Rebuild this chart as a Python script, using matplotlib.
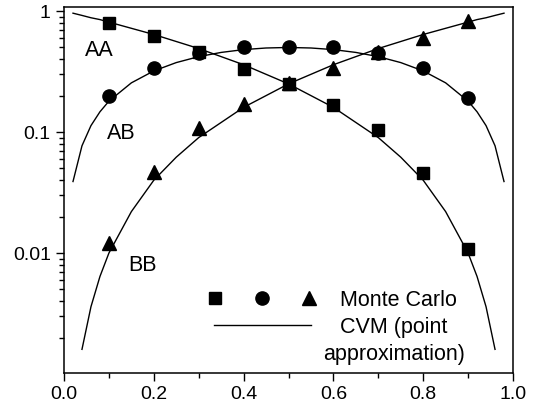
import matplotlib
matplotlib.use("Agg")
import matplotlib.pyplot as plt
from matplotlib.ticker import LogLocator, NullFormatter, MultipleLocator
from matplotlib.lines import Line2D
from matplotlib.legend_handler import HandlerTuple

plt.rcParams["font.family"] = ["Liberation Sans", "DejaVu Sans"]

# Monte Carlo points
mc_x = [0.1, 0.2, 0.3, 0.4, 0.5, 0.6, 0.7, 0.8, 0.9]
mc_aa = [0.80, 0.62, 0.46, 0.335, 0.25, 0.167, 0.104, 0.046, 0.0109]
mc_ab = [0.199, 0.34, 0.45, 0.50, 0.507, 0.50, 0.45, 0.34, 0.19]
mc_bb = [0.012, 0.047, 0.107, 0.17, 0.256, 0.34, 0.455, 0.594, 0.83]

# CVM (point approximation) curves
cvm_x = [0.02, 0.04, 0.06, 0.08, 0.10, 0.15, 0.20, 0.25, 0.30, 0.35, 0.40, 0.45,
         0.50, 0.55, 0.60, 0.65, 0.70, 0.75, 0.80, 0.85, 0.90, 0.92, 0.94, 0.96, 0.98]
cvm_aa = [0.96, 0.92, 0.88, 0.85, 0.81, 0.72, 0.64, 0.56, 0.49, 0.42, 0.36, 0.30,
          0.25, 0.20, 0.16, 0.12, 0.09, 0.062, 0.040, 0.022, 0.010, 0.0064, 0.0036, 0.0016]
cvm_ab = [0.039, 0.077, 0.113, 0.147, 0.18, 0.255, 0.32, 0.375, 0.42, 0.455, 0.48, 0.495,
          0.50, 0.495, 0.48, 0.455, 0.42, 0.375, 0.32, 0.255, 0.18, 0.147, 0.113, 0.077, 0.039]
cvm_bb = [0.0016, 0.0036, 0.0064, 0.010, 0.022, 0.040, 0.062, 0.09, 0.12, 0.16, 0.20,
          0.25, 0.30, 0.36, 0.42, 0.49, 0.56, 0.64, 0.72, 0.81, 0.85, 0.88, 0.92, 0.96]

labels = ["AA", "AB", "BB"]
label_pos = [(0.078, 0.476), (0.127, 0.098), (0.174, 0.0079)]


def main():
    fig = plt.figure(figsize=(5.38, 4.09), dpi=100)
    ax = fig.add_axes([0.119, 0.088, 0.8345, 0.8937])
    fs = 15.5

    ax.plot(cvm_x[:len(cvm_aa)], cvm_aa, color="black", lw=1.0)
    ax.plot(cvm_x, cvm_ab, color="black", lw=1.0)
    ax.plot(cvm_x[1:], cvm_bb, color="black", lw=1.0)

    sq, = ax.plot(mc_x, mc_aa, "s", color="black", ms=8.5, ls="none")
    ci, = ax.plot(mc_x, mc_ab, "o", color="black", ms=9.5, ls="none")
    tr, = ax.plot(mc_x, mc_bb, "^", color="black", ms=10, ls="none")

    for lab, (lx, ly) in zip(labels, label_pos):
        ax.text(lx, ly, lab, fontsize=fs, ha="center", va="center")

    ax.set_yscale("log")
    ax.set_xlim(0, 1)
    ax.set_ylim(1.02e-3, 1.07)
    ax.set_yticks([0.01, 0.1, 1])
    ax.set_yticklabels(["0.01", "0.1", "1"])
    ax.yaxis.set_minor_locator(LogLocator(base=10, subs=[2, 3, 4, 5, 6, 7, 8, 9]))
    ax.yaxis.set_minor_formatter(NullFormatter())
    ax.set_xticks([0.0, 0.2, 0.4, 0.6, 0.8, 1.0])
    ax.set_xticklabels(["0.0", "0.2", "0.4", "0.6", "0.8", "1.0"])
    ax.xaxis.set_minor_locator(MultipleLocator(0.1))
    ax.tick_params(which="both", direction="out", top=False, right=False,
                   labelsize=14, width=1.0)
    ax.tick_params(which="major", length=6)
    ax.tick_params(which="minor", length=3.5)
    for s in ax.spines.values():
        s.set_linewidth(1.1)

    line = Line2D([], [], color="black", lw=1.0)
    blank = Line2D([], [], color="none")
    leg = ax.legend([(sq, ci, tr), line, blank],
                    ["Monte Carlo", "CVM (point", "approximation)"],
                    handler_map={tuple: HandlerTuple(ndivide=None, pad=2.05)},
                    loc="upper left", bbox_to_anchor=(0.334, 0.228),
                    frameon=False, fontsize=fs, handlelength=4.5, handletextpad=1.35,
                    labelspacing=0.29, borderpad=0, borderaxespad=0)
    # second line of the CVM label sits a little to the left (centred text)
    leg.get_texts()[2].set_position((-17, 0))

    fig.savefig("out.png", dpi=100)


if __name__ == "__main__":
    main()
